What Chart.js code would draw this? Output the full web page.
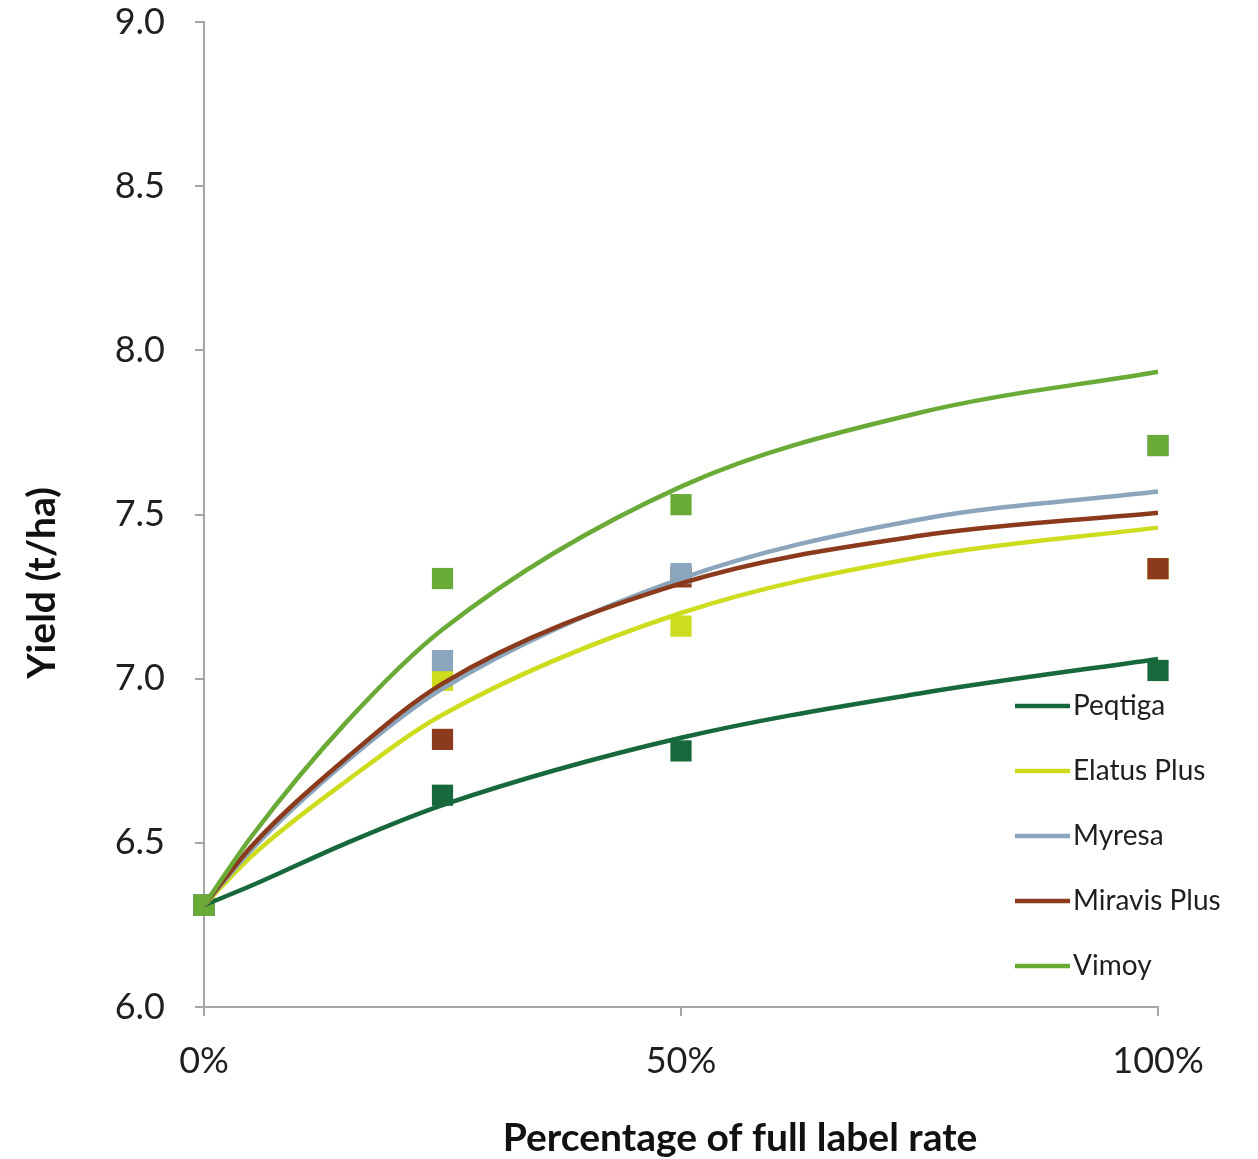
<!DOCTYPE html>
<html>
<head>
<meta charset="utf-8">
<script src="https://cdn.jsdelivr.net/npm/chart.js@4.4.1/dist/chart.umd.min.js"></script>
<style>
  html, body { margin: 0; padding: 0; background: #fff; }
  #wrap { width: 1258px; height: 1159px; position: relative; }
</style>
</head>
<body>
<div id="wrap"><canvas id="myChart" width="1258" height="1159"></canvas></div>
<script>
// measured yields (t/ha) at each rate (% of full label rate)
const rates = [0, 25, 50, 100]
const peqtigaPts = [6.31, 6.645, 6.78, 7.025]
const elatusPts = [6.31, 6.995, 7.16, 7.335]
const myresaPts = [6.31, 7.055, 7.32, 7.71]
const miravisPts = [6.31, 6.815, 7.31, 7.335]
const vimoyPts = [6.31, 7.305, 7.53, 7.71]

// fitted trend curves
const curveRates = [0, 5, 15, 25, 50, 75, 100]
const peqtigaFit = [6.31, 6.37, 6.50, 6.615, 6.82, 6.955, 7.06]
const elatusFit = [6.31, 6.46, 6.69, 6.89, 7.20, 7.37, 7.46]
const myresaFit = [6.31, 6.48, 6.75, 6.97, 7.305, 7.485, 7.57]
const miravisFit = [6.31, 6.49, 6.76, 6.985, 7.29, 7.435, 7.505]
const vimoyFit = [6.31, 6.52, 6.87, 7.15, 7.585, 7.81, 7.935]

const names = ['Peqtiga', 'Elatus Plus', 'Myresa', 'Miravis Plus', 'Vimoy']
const colors = ['#17683a', '#cddc1c', '#8ba6bc', '#8c3a1c', '#6aaa36']
const yTicks = [6, 6.5, 7, 7.5, 8, 8.5, 9]
const xTicks = [0, 50, 100]

const FONT = 'Lato, "DejaVu Sans", sans-serif'
const AXIS = '#a6a6a6'

function xy(xs, ys) {
  return xs.map((x, i) => ({ x: x, y: ys[i] }))
}

const pts = [peqtigaPts, elatusPts, myresaPts, miravisPts, vimoyPts]
const fits = [peqtigaFit, elatusFit, myresaFit, miravisFit, vimoyFit]
// stacking of the square markers, lower = on top
const pointOrder = [12, 14, 11, 13, 10]

const datasets = []
names.forEach((n, i) => {
  datasets.push({
    label: n,
    data: xy(curveRates, fits[i]),
    showLine: true,
    borderColor: colors[i],
    borderWidth: 4.5,
    pointRadius: 0,
    cubicInterpolationMode: 'monotone',
    clip: false,
    order: 5 - i,
  })
})
names.forEach((n, i) => {
  datasets.push({
    label: n + ' data',
    data: xy(rates, pts[i]),
    showLine: false,
    pointStyle: 'rect',
    pointRadius: 15,
    pointBorderWidth: 0,
    backgroundColor: colors[i],
    borderColor: colors[i],
    clip: false,
    order: pointOrder[i],
  })
})

// legend + axis titles drawn by hand so they sit where the original has them
const extras = {
  id: 'extras',
  afterDraw(chart) {
    const c = chart.ctx
    const a = chart.chartArea
    c.save()
    c.textBaseline = 'middle'
    c.font = '28px ' + FONT
    names.forEach((n, i) => {
      const y = a.bottom - 301 + i * 65
      const x0 = a.right - 143
      c.strokeStyle = colors[i]
      c.lineWidth = 4.5
      c.beginPath()
      c.moveTo(x0, y)
      c.lineTo(x0 + 55, y)
      c.stroke()
      c.fillStyle = '#1f1f1f'
      c.textAlign = 'left'
      c.fillText(n, x0 + 58, y)
    })
    c.fillStyle = '#111'
    c.font = 'bold 39px ' + FONT
    c.textAlign = 'center'
    c.fillText('Percentage of full label rate', 740, 1138)
    c.translate(42, 583)
    c.rotate(-Math.PI / 2)
    c.fillText('Yield (t/ha)', 0, 0)
    c.restore()
  }
}

const config = {
  type: 'scatter',
  data: { datasets: datasets },
  options: {
    responsive: false,
    animation: false,
    layout: { padding: { top: 0, right: 100, left: 0, bottom: 0 } },
    plugins: {
      legend: { display: false },
      tooltip: { enabled: false },
    },
    scales: {
      x: {
        type: 'linear',
        min: 0,
        max: 100,
        afterBuildTicks: (s) => { s.ticks = xTicks.map(v => ({ value: v })) },
        afterFit: (s) => { s.height = 152 },
        grid: { drawOnChartArea: false, color: AXIS, lineWidth: 2, tickLength: 9 },
        border: { color: AXIS, width: 2 },
        ticks: {
          padding: 24,
          color: '#1f1f1f',
          font: { family: FONT, size: 36 },
          callback: (v) => v + '%',
        },
      },
      y: {
        min: 6,
        max: 9,
        afterBuildTicks: (s) => { s.ticks = yTicks.map(v => ({ value: v })) },
        afterFit: (s) => { s.width = 204; s.paddingTop = 22; s.paddingBottom = 0 },
        grid: { drawOnChartArea: false, color: AXIS, lineWidth: 2, tickLength: 9 },
        border: { color: AXIS, width: 2 },
        ticks: {
          padding: 30,
          color: '#1f1f1f',
          font: { family: FONT, size: 36 },
          callback: (v) => Number(v).toFixed(1),
        },
      },
    },
  },
  plugins: [extras],
}

const myChart = new Chart(document.getElementById('myChart'), config)
</script>
</body>
</html>
